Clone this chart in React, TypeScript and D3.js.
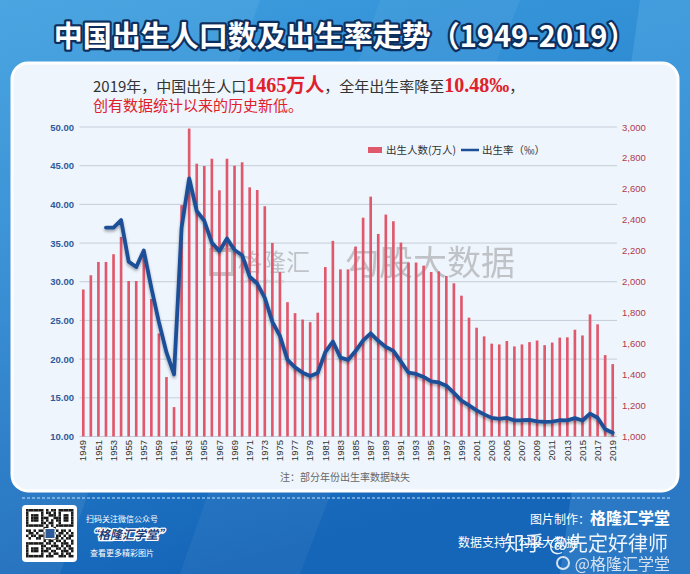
import React from 'react';
import * as d3 from 'd3';

const years = [
  1949, 1950, 1951, 1952, 1953, 1954, 1955, 1956, 1957, 1958, 1959, 1960, 1961, 1962, 1963,
  1964, 1965, 1966, 1967, 1968, 1969, 1970, 1971, 1972, 1973, 1974, 1975, 1976, 1977, 1978, 1979,
  1980, 1981, 1982, 1983, 1984, 1985, 1986, 1987, 1988, 1989, 1990, 1991, 1992, 1993, 1994,
  1995, 1996, 1997, 1998, 1999, 2000, 2001, 2002, 2003, 2004, 2005, 2006, 2007, 2008, 2009,
  2010, 2011, 2012, 2013, 2014, 2015, 2016, 2017, 2018, 2019,
];

// 出生人数(万人)
const births = [
  1950, 2042, 2128, 2128, 2178, 2290, 2005, 2005, 2184, 1889, 1666, 1384, 1190, 2495, 2990,
  2763, 2748, 2795, 2591, 2795, 2750, 2772, 2610, 2593, 2488, 2251, 2062, 1868, 1797, 1756, 1739,
  1800, 2095, 2264, 2080, 2080, 2226, 2414, 2550, 2309, 2434, 2391, 2253, 2124, 2124, 2104,
  2063, 2067, 2037, 1990, 1910, 1768, 1703, 1647, 1600, 1595, 1617, 1582, 1595, 1610, 1620,
  1590, 1607, 1639, 1641, 1690, 1653, 1789, 1725, 1526, 1468,
];

// 出生率(‰)
const rates: (number | null)[] = [
  null, null, null, 37.0, 37.0, 37.97, 32.6, 31.9, 34.03, 29.22, 24.78, 20.86, 18.02, 37.01, 43.37,
  39.14, 37.88, 35.05, 33.96, 35.59, 34.11, 33.43, 30.65, 29.77, 27.93, 24.82, 23.01, 19.91, 18.93, 18.25, 17.82,
  18.21, 20.91, 22.28, 20.19, 19.9, 21.04, 22.43, 23.33, 22.37, 21.58, 21.06, 19.68, 18.24, 18.09, 17.7,
  17.12, 16.98, 16.57, 15.64, 14.64, 14.03, 13.38, 12.86, 12.41, 12.29, 12.4, 12.09, 12.1, 12.14, 11.95,
  11.9, 11.93, 12.1, 12.08, 12.37, 12.07, 12.95, 12.43, 10.94, 10.48,
];

const leftTicks = [10, 15, 20, 25, 30, 35, 40, 45, 50];
const rightTicks = [1000, 1200, 1400, 1600, 1800, 2000, 2200, 2400, 2600, 2800, 3000];

const W = 690;
const H = 574;
const CJK = '"Noto Sans CJK SC", "Noto Sans", sans-serif';

export default function App() {
  const x = d3
    .scaleBand<number>()
    .domain(years)
    .range([79.5, 616.5])
    .paddingInner(0.65)
    .paddingOuter(0.325);
  const yL = d3.scaleLinear().domain([10, 50]).range([436.5, 127]);
  const yR = d3.scaleLinear().domain([1000, 3000]).range([436.5, 127]);
  const cx = (yr: number) => (x(yr) as number) + x.bandwidth() / 2;

  const lineData = years.map((yr, i) => ({ yr, v: rates[i] }));
  const line = d3
    .line<{ yr: number; v: number | null }>()
    .defined((d) => d.v != null)
    .x((d) => cx(d.yr))
    .y((d) => yL(d.v as number));
  const pathD = line(lineData) || '';

  // simple QR-like decoration
  const qrCells: [number, number][] = [];
  const qrPattern = [
    '1111111010110111111',
    '1000001011010100001',
    '1011101001110101101',
    '1011101110011101101',
    '1011101010101101101',
    '1000001101100100001',
    '1111111010101111111',
    '0000000110010000000',
    '1101011011101011010',
    '0110100100110110101',
    '1011011100001101011',
    '0100110111011010110',
    '0000000101101101001',
    '1111111011010011101',
    '1000001100111010110',
    '1011101011001101011',
    '1011101110110011101',
    '1000001001011010110',
    '1111111011100111011',
  ];
  qrPattern.forEach((row, r) =>
    row.split('').forEach((c, k) => {
      if (c === '1') qrCells.push([r, k]);
    })
  );

  return (
    <svg width={W} height={H} style={{ display: 'block', position: 'absolute', left: 0, top: 0 }}>
      <defs>
        <linearGradient id="bg" x1="0" y1="0" x2="0.3" y2="1">
          <stop offset="0" stopColor="#3d9fdf" />
          <stop offset="0.5" stopColor="#2a85cf" />
          <stop offset="1" stopColor="#1565b8" />
        </linearGradient>
        <filter id="shadow" x="-10%" y="-10%" width="120%" height="130%">
          <feGaussianBlur in="SourceAlpha" stdDeviation="1.5" />
          <feOffset dx="0" dy="2" result="b" />
          <feComponentTransfer>
            <feFuncA type="linear" slope="0.35" />
          </feComponentTransfer>
          <feMerge>
            <feMergeNode />
            <feMergeNode in="SourceGraphic" />
          </feMerge>
        </filter>
      </defs>

      {/* background */}
      <rect x={0} y={0} width={W} height={H} fill="url(#bg)" />
      <polygon points="0,0 260,0 60,574 0,574" fill="#ffffff" opacity={0.07} />
      <polygon points="380,0 520,0 300,574 180,574" fill="#ffffff" opacity={0.05} />
      <polygon points="640,0 690,0 690,574 560,574" fill="#8fd8ff" opacity={0.18} />

      {/* title */}
      <text
        x={345}
        y={47}
        textAnchor="middle"
        fontFamily={CJK}
        fontWeight={700}
        fontSize={29}
        fill="#ffffff"
        stroke="#0d2f5e"
        strokeWidth={4.5}
        paintOrder="stroke"
        strokeLinejoin="round"
      >
        中国出生人口数及出生率走势（1949-2019）
      </text>

      {/* panel */}
      <rect x={12} y={63} width={666} height={428} rx={16} fill="#eef5fc" stroke="#ffffff" strokeWidth={3} />

      {/* subtitle */}
      <text x={93} y={92} fontFamily={CJK} fontSize={15} fill="#333333">
        2019年，中国出生人口
        <tspan fill="#e0202a" fontWeight={700} fontSize={20} fontFamily='"Liberation Serif", "DejaVu Serif", serif'>
          1465
        </tspan>
        <tspan fill="#e0202a" fontWeight={700} fontSize={19}>万人</tspan>
        ，全年出生率降至
        <tspan fill="#e0202a" fontWeight={700} fontSize={20} fontFamily='"Liberation Serif", "DejaVu Serif", serif'>
          10.48‰
        </tspan>
        ，
      </text>
      <text x={93} y={111} fontFamily={CJK} fontSize={15} fill="#e0202a">
        创有数据统计以来的历史新低。
      </text>

      {/* watermark */}
      <g opacity={0.45}>
        <rect x={211} y={250} width={22} height={24} fill="none" stroke="#888" strokeWidth={4} />
        <text x={238} y={271} fontFamily={CJK} fontSize={24} fill="#888">格隆汇</text>
        <text x={240} y={283} fontFamily="Liberation Sans, sans-serif" fontSize={5} fill="#888">www.gelonghui.com</text>
        <text x={345} y={275} fontFamily={CJK} fontSize={34} fill="#888">勾股大数据</text>
      </g>

      {/* gridlines */}
      {leftTicks.map((t) => (
        <line key={t} x1={79.5} x2={617} y1={yL(t)} y2={yL(t)} stroke="#c5ced8" strokeWidth={1} />
      ))}

      {/* bars */}
      {years.map((yr, i) => (
        <rect
          key={yr}
          x={x(yr)}
          y={yR(births[i])}
          width={x.bandwidth()}
          height={yR(1000) - yR(births[i])}
          fill="#e0586b"
        />
      ))}

      {/* line */}
      <path
        d={pathD}
        fill="none"
        stroke="#1d4f98"
        strokeWidth={3.8}
        strokeLinejoin="round"
        strokeLinecap="round"
        filter="url(#shadow)"
      />

      {/* left axis */}
      {leftTicks.map((t) => (
        <text
          key={t}
          x={74}
          y={yL(t) + 3.5}
          textAnchor="end"
          fontFamily="Liberation Sans, Arial, sans-serif"
          fontSize={9.5}
          fontWeight={700}
          fill="#2f5a9a"
        >
          {d3.format('.2f')(t)}
        </text>
      ))}

      {/* right axis */}
      {rightTicks.map((t) => (
        <text
          key={t}
          x={622}
          y={yR(t) + 3.5}
          textAnchor="start"
          fontFamily="Liberation Sans, Arial, sans-serif"
          fontSize={9.5}
          fill="#b23a4a"
        >
          {d3.format(',')(t)}
        </text>
      ))}

      {/* x labels */}
      {years
        .filter((yr) => yr % 2 === 1)
        .map((yr) => (
          <text
            key={yr}
            transform={`translate(${cx(yr) + 3.2},440) rotate(-90)`}
            textAnchor="end"
            fontFamily="Liberation Sans, Arial, sans-serif"
            fontSize={9.5}
            fill="#333333"
          >
            {yr}
          </text>
        ))}

      {/* legend */}
      <rect x={368} y={147} width={14} height={6} fill="#e0586b" />
      <text x={386} y={154} fontFamily={CJK} fontSize={10.5} fill="#333333">出生人数(万人)</text>
      <line x1={461} x2={479} y1={150} y2={150} stroke="#1d4f98" strokeWidth={2.5} />
      <text x={482} y={154} fontFamily={CJK} fontSize={10.5} fill="#333333">出生率（‰）</text>

      {/* note */}
      <text x={345} y={481} textAnchor="middle" fontFamily={CJK} fontSize={10} fill="#666666">
        注：部分年份出生率数据缺失
      </text>

      {/* footer */}
      <line x1={22} x2={670} y1={498} y2={498} stroke="#bfe3ff" strokeWidth={1} strokeDasharray="3,2" />
      <rect x={22} y={505} width={55} height={57} rx={4} fill="#ffffff" />
      <g transform="translate(26,509)">
        {qrCells.map(([r, k], i) => (
          <rect key={i} x={k * 2.5} y={r * 2.55} width={2.5} height={2.55} fill="#1a1a1a" />
        ))}
        <rect x={19} y={19.5} width={10} height={10} fill="#2f5a9a" stroke="#fff" strokeWidth={1} />
      </g>
      <text x={86} y={522} fontFamily={CJK} fontSize={8} fill="#ffffff">扫码关注微信公众号</text>
      <text
        x={86}
        y={539}
        fontFamily={CJK}
        fontSize={12}
        fontWeight={700}
        fontStyle="italic"
        fill="#1d3f78"
        stroke="#ffffff"
        strokeWidth={2.5}
        paintOrder="stroke"
      >
        “格隆汇学堂”
      </text>
      <text x={90} y={556} fontFamily={CJK} fontSize={8} fill="#ffffff">查看更多精彩图片</text>

      <text x={670} y={524} textAnchor="end" fontFamily={CJK} fill="#ffffff">
        <tspan fontSize={12}>图片制作：</tspan>
        <tspan fontSize={16} fontWeight={700}>格隆汇学堂</tspan>
      </text>
      <text x={458} y={547} fontFamily={CJK} fontSize={12} fill="#ffffff">数据支持：勾股大数据</text>
      <text x={668} y={551} textAnchor="end" fontFamily={CJK} fontSize={20} fill="#ffffff" opacity={0.92}>
        知乎 @先定好律师
      </text>
      <text x={670} y={570} textAnchor="end" fontFamily={CJK} fontSize={16} fill="#e8eef5" opacity={0.9}>
        @格隆汇学堂
      </text>
      <circle cx={563} cy={563} r={6} fill="none" stroke="#e8eef5" strokeWidth={2} opacity={0.9} />
    </svg>
  );
}
